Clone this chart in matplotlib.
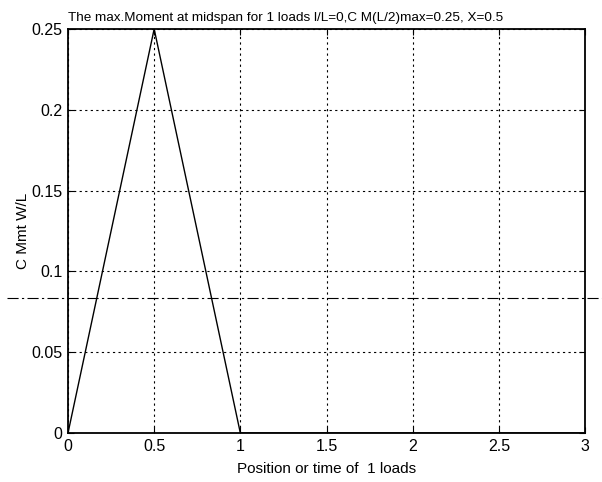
"""Influence line of midspan moment for a single moving load."""

import matplotlib
matplotlib.use("Agg")
import matplotlib.pyplot as plt
import numpy as np

# load position / time and normalised midspan moment
position = [0.0, 0.5, 1.0, 3.0]
moment = [0.0, 0.25, 0.0, 0.0]
ref_level = 1.0 / 12.0

x_ticks = [0, 0.5, 1, 1.5, 2, 2.5, 3]
x_tick_labels = ["0", "0.5", "1", "1.5", "2", "2.5", "3"]
y_ticks = [0, 0.05, 0.1, 0.15, 0.2, 0.25]
y_tick_labels = ["0", "0.05", "0.1", "0.15", "0.2", "0.25"]

plt.rcParams["font.family"] = ["Liberation Sans", "DejaVu Sans"]
plt.rcParams["font.size"] = 11.5

fig = plt.figure(figsize=(6.02, 4.82), dpi=100)
ax = fig.add_axes([68 / 602, 1 - 433 / 482, (585 - 68) / 602, (433 - 29) / 482])

ax.plot(position, moment, color="black", linewidth=1.0)

ax.set_xlim(0, 3)
ax.set_ylim(0, 0.25)
ax.set_xticks(x_ticks)
ax.set_xticklabels(x_tick_labels)
ax.set_yticks(y_ticks)
ax.set_yticklabels(y_tick_labels)
ax.tick_params(direction="in", length=4, top=True, right=True, pad=4, width=0.8,
               labelsize=11.5)
ax.grid(True, color="black", linestyle=(0, (2, 3)), linewidth=0.8)
for spine in ax.spines.values():
    spine.set_linewidth(1.3)

ax.set_xlabel("Position or time of  1 loads", fontsize=11, labelpad=6)
ax.set_ylabel("C Mmt W/L", fontsize=11, labelpad=1)
ax.set_title("The max.Moment at midspan for 1 loads l/L=0,C M(L/2)max=0.25, X=0.5",
             loc="left", pad=6, fontsize=9.7,
             family=["Liberation Sans Narrow", "Liberation Sans"])

# dash-dot reference line running across the whole page
y_fig = fig.transFigure.inverted().transform(ax.transData.transform((0, ref_level)))[1]
fig.add_artist(plt.Line2D([7 / 602, 1.0], [y_fig, y_fig], transform=fig.transFigure,
                          color="black", linestyle=(0, (10, 3, 2, 3)), linewidth=0.8))

fig.savefig("out.png", dpi=100)
